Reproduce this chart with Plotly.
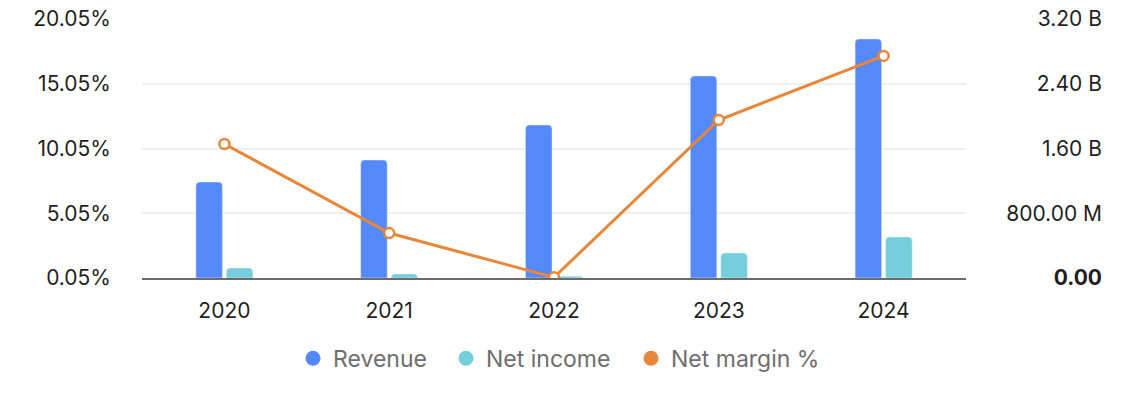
import plotly.graph_objects as go

years = ["2020", "2021", "2022", "2023", "2024"]
revenue = [1.186e9, 1.458e9, 1.890e9, 2.496e9, 2.953e9]
net_income = [0.124e9, 0.050e9, 0.022e9, 0.309e9, 0.507e9]
net_margin = [10.40, 3.52, 0.10, 12.25, 17.20]

money_ticks = [0, 0.8e9, 1.6e9, 2.4e9, 3.2e9]
money_text = ["<b>0.00</b>", "800.00 M", "1.60 B", "2.40 B", "3.20 B"]
pct_ticks = [0.05, 5.05, 10.05, 15.05, 20.05]
pct_text = ["0.05%", "5.05%", "10.05%", "15.05%", "20.05%"]

C_REV = "#5589F8"
C_NI = "#74CEDC"
C_NM = "#E8863A"

W, H = 1136, 398
FONT = "Inter"

fig = go.Figure()
fig.add_trace(go.Bar(x=years, y=revenue, name="Revenue", marker_color=C_REV,
                     yaxis="y", showlegend=False))
fig.add_trace(go.Bar(x=years, y=net_income, name="Net income", marker_color=C_NI,
                     yaxis="y", showlegend=False))
fig.add_trace(go.Scatter(x=years, y=net_margin, name="Net margin %", mode="lines+markers",
                         line=dict(color=C_NM, width=3),
                         marker=dict(symbol="circle", size=10, color="white",
                                     line=dict(color=C_NM, width=2.5)),
                         yaxis="y2", showlegend=False))
# legend entries (round dots), each in its own legend box for exact spacing
legend_items = [("Revenue", C_REV, "legend", 313), ("Net income", C_NI, "legend2", 466),
                ("Net margin %", C_NM, "legend3", 651)]
for nm, c, lg, _ in legend_items:
    fig.add_trace(go.Scatter(x=[None], y=[None], mode="markers", name=nm,
                             marker=dict(symbol="circle", size=15, color=c),
                             yaxis="y2", showlegend=True, legend=lg))

x0, x1 = 142 / W, 966 / W
common_y = dict(ticks="", zeroline=False, showline=False, automargin=False,
                ticklabeloverflow="allow", tickfont=dict(size=21, color="#1f1f1f"))
fig.update_layout(
    width=W, height=H,
    margin=dict(l=0, r=0, t=19, b=120),
    paper_bgcolor="white", plot_bgcolor="white",
    font=dict(family=FONT, size=21, color="#1f1f1f"),
    barmode="group", bargap=0.63, bargroupgap=0.13, barcornerradius=4,
    xaxis=dict(domain=[x0, x1], showgrid=False, showline=True, linecolor="#6b6b6b",
               linewidth=2, ticks="", ticklabelstandoff=13,
               tickfont=dict(size=21, color="#1f1f1f"), fixedrange=True),
    yaxis=dict(range=[0, 3.2e9], tickvals=money_ticks, ticktext=money_text,
               side="left", anchor="free", position=1102 / W,
               showgrid=True, gridcolor="#efefef", gridwidth=1.5, **common_y),
    yaxis2=dict(range=[0.05, 20.05], tickvals=pct_ticks, ticktext=pct_text,
                overlaying="y", side="left", anchor="x", showgrid=False,
                ticklabelstandoff=30, **common_y),
    showlegend=True,
)
for nm, c, lg, dot_x in legend_items:
    fig.update_layout({lg: dict(orientation="h", x=(dot_x - 20) / W, xanchor="left",
                                y=-0.31, yanchor="middle", bgcolor="rgba(0,0,0,0)",
                                font=dict(size=23, color="#6e6e6e"), itemclick=False)})

fig.write_html("out.html", config={"displayModeBar": False},
               post_script="document.body.style.margin='0';")
